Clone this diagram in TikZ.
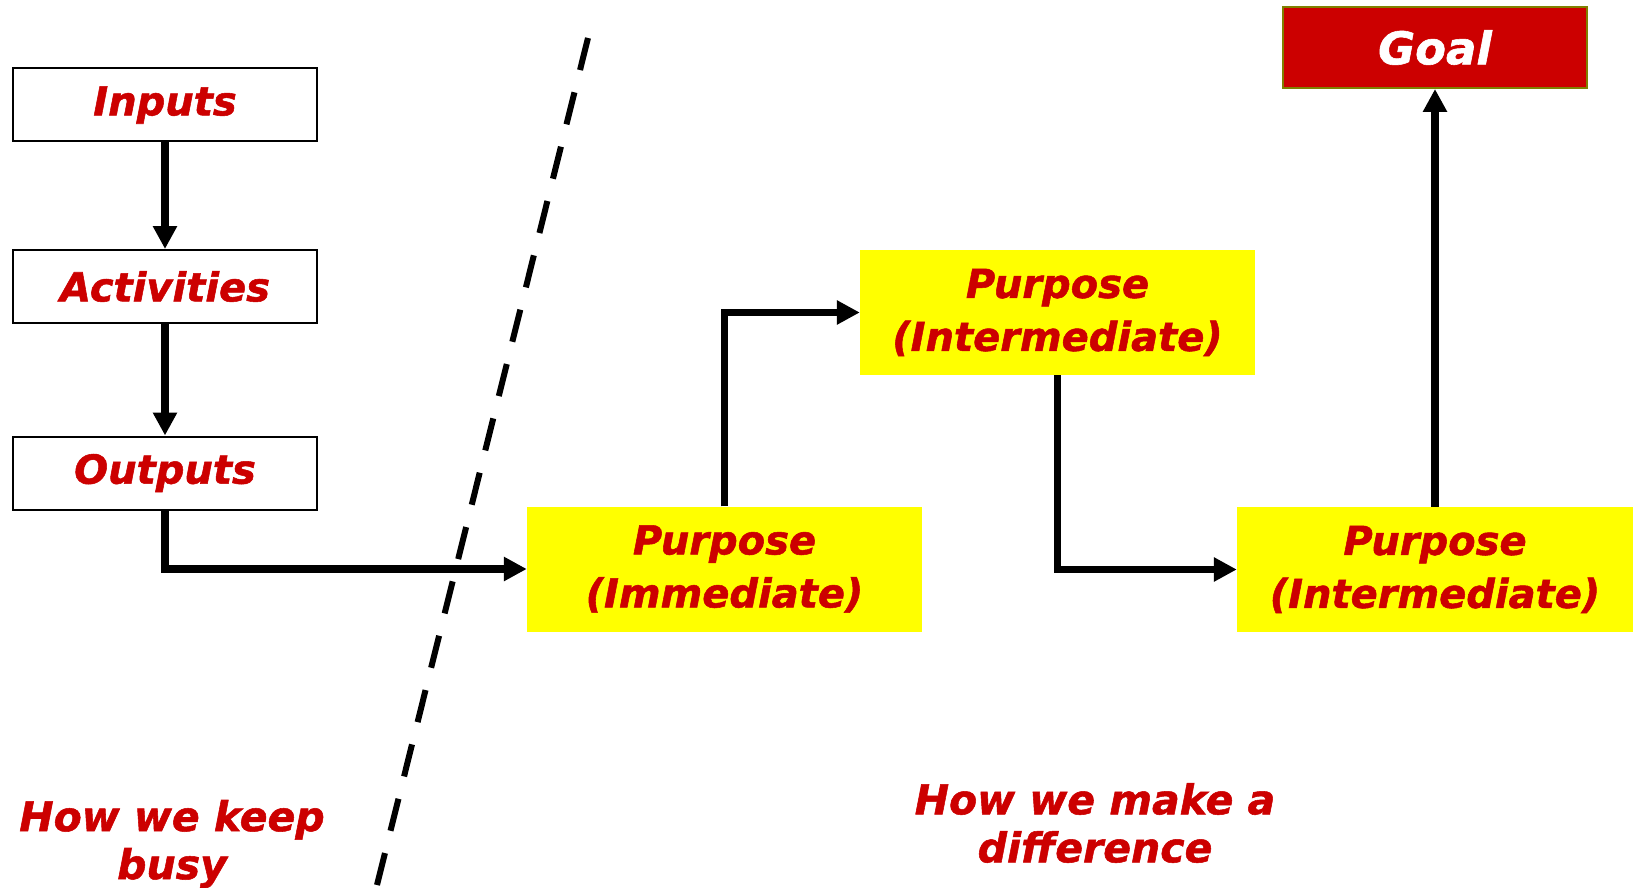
\documentclass[tikz,border=0pt]{standalone}
\usepackage{fontspec}
\setmainfont{DejaVu Sans}[BoldItalicFont={DejaVu Sans Bold Oblique},
  BoldItalicFeatures={FakeBold=1.3}]
\usetikzlibrary{arrows.meta}
\definecolor{textred}{HTML}{CC0000}
\definecolor{goalred}{HTML}{CC0000}
\definecolor{goalrim}{HTML}{808000}
\definecolor{purposeyellow}{HTML}{FFFF00}
\tikzset{
  stagebox/.style={draw, line width=2pt, fill=white, minimum width=304pt,
    minimum height=73pt, inner sep=0pt, text=textred,
    font=\fontsize{40}{52}\selectfont\bfseries\itshape},
  purposebox/.style={fill=purposeyellow, minimum width=395pt,
    minimum height=125pt, inner sep=0pt, align=center, text=textred,
    font=\fontsize{40}{53}\selectfont\bfseries\itshape},
  goalbox/.style={draw=goalrim, line width=2pt, fill=goalred, minimum width=304pt,
    minimum height=81pt, inner sep=0pt, text=white,
    font=\fontsize{45}{54}\selectfont\bfseries\itshape},
  caption/.style={align=center, text=textred,
    font=\fontsize{41}{48}\selectfont\bfseries\itshape},
  conn/.style={line width=7.5pt, -{Triangle[width=23pt, length=23pt]}},
  divider/.style={line width=6pt, dash pattern=on 33pt off 23pt}
}
\begin{document}
\begin{tikzpicture}[x=1pt, y=-1pt]
  \useasboundingbox (0, 0) rectangle (1633, 888);

  % dividing line
  \coordinate (dtop) at (588, 38);
  \coordinate (dbot) at (377, 885);
  \draw[divider] (dtop) -- (dbot);

  % left column
  \node[stagebox] (inputs) at (165, 105) {Inputs};
  \node[stagebox] (activities) at (165, 286.5) {Activities};
  \node[stagebox] (outputs) at (165, 473) {Outputs};

  % purposes and goal
  \node[purposebox] (immediate) at (724.5, 569) {Purpose\\(Immediate)};
  \node[purposebox] (midone) at (1057.5, 312.5) {Purpose\\(Intermediate)};
  \node[purposebox, minimum width=396pt] (midtwo) at (1435, 569.5) {Purpose\\(Intermediate)};
  \node[goalbox] (goal) at (1435, 47.5) {Goal};

  \draw[conn] (inputs) -- (activities);
  \draw[conn] (activities) -- (outputs);
  \draw[conn] (outputs) |- (immediate);
  \draw[conn] (immediate) |- (midone);
  \draw[conn] (midone) |- (midtwo);
  \draw[conn] (midtwo) -- (goal);

  % captions
  \node[caption] (busy) at (172, 844) {How we keep\\busy};
  \node[caption] (difference) at (1095, 823) {How we make a\\difference};
\end{tikzpicture}
\end{document}
